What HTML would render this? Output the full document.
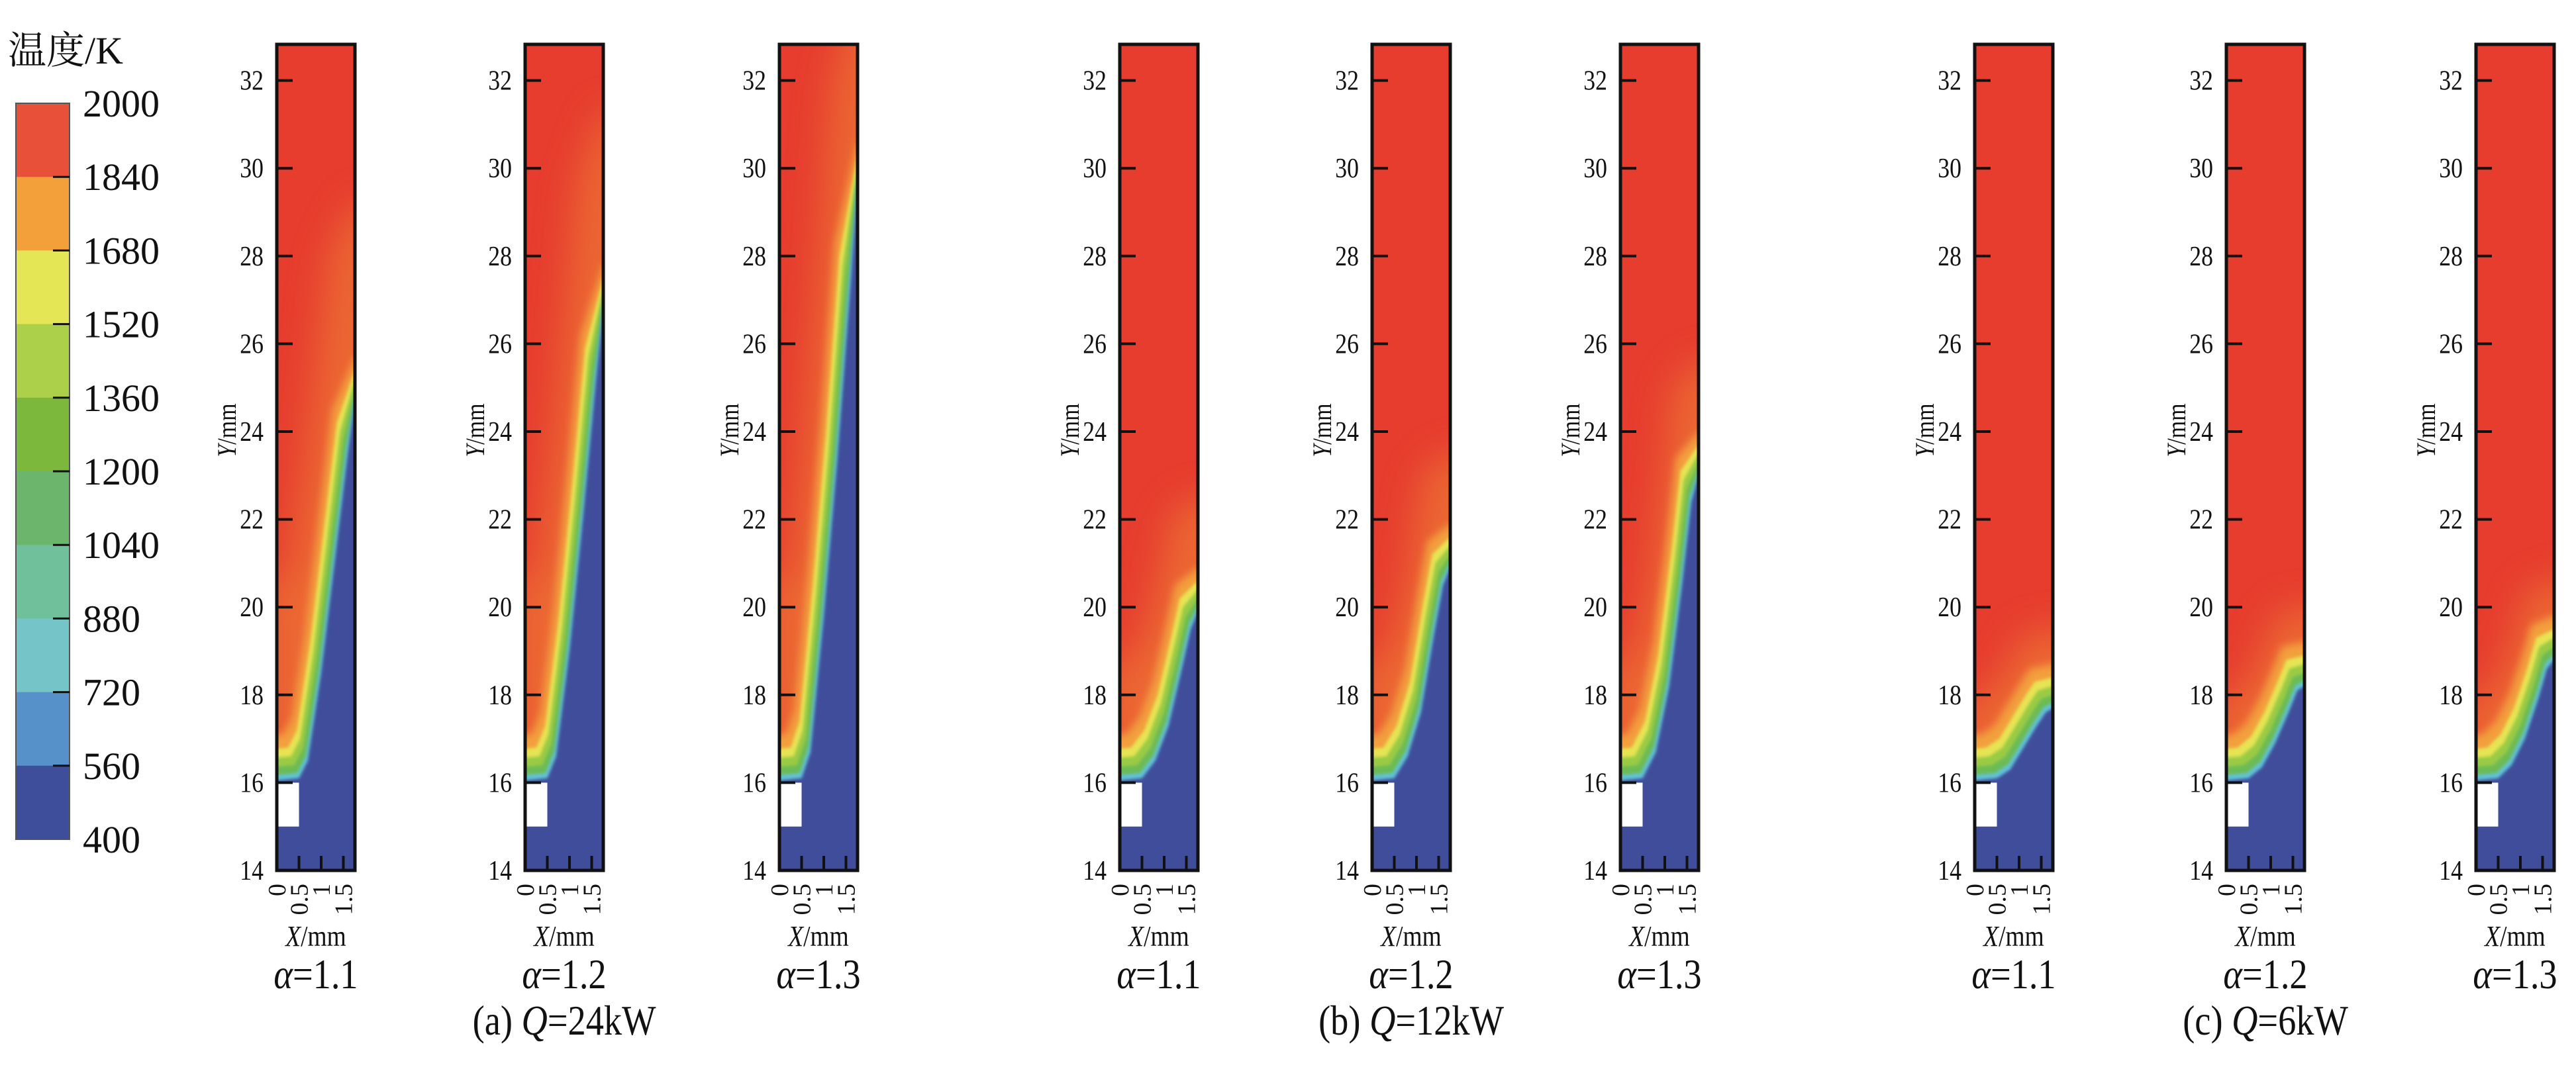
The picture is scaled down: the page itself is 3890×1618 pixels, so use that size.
<!DOCTYPE html>
<html><head><meta charset="utf-8">
<style>
html,body{margin:0;padding:0;background:#fff;}
svg{display:block;}
text{font-family:"Liberation Serif","Noto Serif CJK SC",serif;fill:#111;}
</style></head>
<body>
<svg id="fig" width="3890" height="1618" viewBox="0 0 3890 1618" xmlns="http://www.w3.org/2000/svg">
<defs>
<filter id="blur6" x="-20%" y="-20%" width="140%" height="140%"><feGaussianBlur stdDeviation="6"/></filter>
<filter id="blur3" x="-20%" y="-20%" width="140%" height="140%"><feGaussianBlur stdDeviation="2.5"/></filter>
<filter id="blur20" x="-50%" y="-50%" width="200%" height="200%"><feGaussianBlur stdDeviation="28"/></filter>
</defs>
</svg>
<script>
// ---- legend data ----
const legendValues = [2000,1840,1680,1520,1360,1200,1040,880,720,560,400];
const legendColors = ["#e8503a","#f3a03b","#e4e655","#add04a","#7bb83b","#6cb56c","#70c09c","#74c4c8","#5692c9","#3f4e9a"];
// ---- panel data ----
const panelLabels = ["α=1.1","α=1.2","α=1.3","α=1.1","α=1.2","α=1.3","α=1.1","α=1.2","α=1.3"];
const groupLabels = [["(a) ","Q","=24kW"],["(b) ","Q","=12kW"],["(c) ","Q","=6kW"]];
const yTicks = [14,16,18,20,22,24,26,28,30,32];
const xTicks = ["0","0.5","1","1.5"];
const xTickValues = [0,0.5,1,1.5];
// flame-front (lower, blue edge) x (mm) and y (mm) per panel
const frontX = [
 [0,0.5,0.7,1.0,1.3,1.6,1.76],
 [0,0.5,0.7,1.0,1.3,1.6,1.76],
 [0,0.5,0.7,1.0,1.3,1.6,1.76],
 [0,0.5,0.8,1.1,1.4,1.6,1.76],
 [0,0.5,0.8,1.1,1.4,1.6,1.76],
 [0,0.5,0.8,1.1,1.4,1.6,1.76],
 [0,0.5,0.8,1.1,1.4,1.6,1.76],
 [0,0.5,0.8,1.1,1.4,1.6,1.76],
 [0,0.5,0.8,1.1,1.4,1.6,1.76]];
const frontY = [
 [16.05,16.1,16.5,18.5,21.0,23.5,24.7],
 [16.05,16.1,16.6,19.0,22.0,25.2,26.8],
 [16.05,16.1,16.7,19.8,23.3,27.3,29.6],
 [16.05,16.1,16.5,17.3,18.6,19.5,19.9],
 [16.05,16.1,16.6,17.6,19.4,20.5,20.9],
 [16.05,16.1,16.7,18.2,20.6,22.4,23.0],
 [16.05,16.1,16.3,16.8,17.3,17.6,17.7],
 [16.05,16.1,16.35,16.9,17.6,18.1,18.2],
 [16.05,16.1,16.4,17.0,17.9,18.6,18.8]];
const orangeExtent = [4.5,4.5,4.5,2.6,2.6,2.6,1.8,1.8,1.8]; // mm above front of warm zone

const panelLeft = [418,793,1177,1691,2072,2447,2982,3362,3739];
const PW=118, TOP=67, BOT=1315, Y0=14, PXMM_Y=66.3, PXMM_X=67;
const NS="http://www.w3.org/2000/svg";
const svg=document.getElementById('fig');
function el(tag,attrs,parent){const e=document.createElementNS(NS,tag);for(const k in attrs)e.setAttribute(k,attrs[k]);(parent||svg).appendChild(e);return e;}
function yS(v){return BOT-(v-Y0)*PXMM_Y;}

// ---- legend ----
const lg=el('g',{});


const lt=el('text',{x:12,y:96,'font-size':58},lg);lt.textContent="温度/K";


const LT=156,LB=1268,LX=24,LW=81;
const bandH=(LB-LT)/legendColors.length;
legendColors.forEach((c,i)=>{
 const r=el('rect',{x:LX,y:LT+i*bandH,width:LW,height:bandH+0.5,fill:c},lg);
 
 
});
el('rect',{x:LX,y:LT,width:LW,height:LB-LT,fill:'none',stroke:'#555','stroke-width':2},lg);
legendValues.forEach((v,i)=>{
 const y=LT+i*bandH;
 if(i>0&&i<legendValues.length-1) el('line',{x1:LX+56,x2:LX+LW,y1:y,y2:y,stroke:'#111','stroke-width':3},lg);
 const t=el('text',{x:125,y:y+20,'font-size':58},lg);t.textContent=v;
 
 
});

// ---- panels ----
panelLeft.forEach((L,p)=>{
 const g=el('g',{});
 
 
 const cid='clip'+p;
 const cp=el('clipPath',{id:cid},g);el('rect',{x:L,y:TOP,width:PW,height:BOT-TOP},cp);
 const f=el('g',{'clip-path':'url(#'+cid+')'},g);
 el('rect',{x:L,y:TOP,width:PW,height:BOT-TOP,fill:'#e63d2f'},f);
 const fx=frontX[p], fy=frontY[p], n=fx.length;
 function poly(d){
  const dx=-0.35*Math.min(d,1.2);
  let pts=fx.map((v,i)=>{
    const sx=(i===n-1)?0:dx;
    return (L+(v+sx)*PXMM_X)+','+yS(fy[i]+d);
  });
  pts.push((L+PW+40)+','+yS(fy[n-1]+d));
  pts.push((L+PW+40)+','+(BOT+20));
  pts.push((L-20)+','+(BOT+20));pts.push((L-20)+','+yS(fy[0]+d));
  return pts.join(' ');
 }
 const warm=el('polygon',{points:poly(orangeExtent[p]),fill:'#ee7a35',opacity:0.7,filter:'url(#blur20)'},f);
 
 
 el('polygon',{points:poly(1.0),fill:'#f2a03c',filter:'url(#blur6)'},f);
 el('polygon',{points:poly(0.7),fill:'#e6e452',filter:'url(#blur3)'},f);
 el('polygon',{points:poly(0.5),fill:'#9acb45',filter:'url(#blur3)'},f);
 el('polygon',{points:poly(0.3),fill:'#6cbb55',filter:'url(#blur3)'},f);
 el('polygon',{points:poly(0.12),fill:'#62c3d8',filter:'url(#blur3)'},f);
 const cold=el('polygon',{points:poly(0),fill:'#3f4e9b',filter:'url(#blur3)'},f);
 
 
 const wall=el('rect',{x:L,y:yS(16),width:0.5*PXMM_X,height:yS(15)-yS(16),fill:'#fff'},f);
 
 
 el('rect',{x:L,y:TOP,width:PW,height:BOT-TOP,fill:'none',stroke:'#111','stroke-width':5},g);
 // y ticks
 yTicks.forEach(v=>{
  const y=yS(v);
  el('line',{x1:L,x2:L+24,y1:y,y2:y,stroke:'#111','stroke-width':4},g);
  const t=el('text',{x:L-20,y:y+14,'font-size':42,'text-anchor':'end',transform:`translate(${L-20},0) scale(0.85,1) translate(${-(L-20)},0)`},g);
  t.textContent=v;
  
  
 });
 // x ticks
 xTickValues.forEach((v,i)=>{
  const x=L+v*PXMM_X;
  if(v>0) el('line',{x1:x,x2:x,y1:BOT,y2:BOT-22,stroke:'#111','stroke-width':4},g);
  const t=el('text',{x:0,y:0,'font-size':38,'text-anchor':'end',transform:`translate(${x+13},${BOT+20}) rotate(-90)`},g);
  t.textContent=xTicks[i];
  
  
 });
 const cx=L+PW/2;
 const ya=el('text',{x:0,y:0,'font-size':40,'text-anchor':'middle',transform:`translate(${L-62},${650}) rotate(-90) scale(0.85,1)`},g);
 ya.innerHTML='<tspan font-style="italic">Y</tspan>/mm';
 
 
 const xa=el('text',{x:0,y:0,'font-size':44,'text-anchor':'middle',transform:`translate(${cx},${1429}) scale(0.85,1)`},g);
 xa.innerHTML='<tspan font-style="italic">X</tspan>/mm';
 
 
 const al=el('text',{x:0,y:0,'font-size':64,'text-anchor':'middle',transform:`translate(${cx},${1493}) scale(0.85,1)`},g);
 al.innerHTML='<tspan font-style="italic">α</tspan>='+panelLabels[p].slice(2);
 
 
});
groupLabels.forEach((gl,i)=>{
 const cx=panelLeft[i*3+1]+PW/2;
 const t=el('text',{x:0,y:0,'font-size':64,'text-anchor':'middle',transform:`translate(${cx},${1563}) scale(0.85,1)`});
 t.innerHTML=gl[0]+'<tspan font-style="italic">'+gl[1]+'</tspan>'+gl[2];
 
 
});
</script>
</body></html>
